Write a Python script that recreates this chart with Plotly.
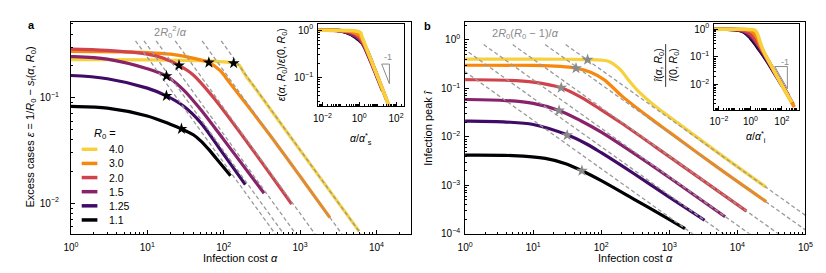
import math
import plotly.graph_objects as go

W, H = 826, 273

# ---------------- data ----------------
R0_labels = ["4.0", "3.0", "2.0", "1.5", "1.25", "1.1"]
R0_values = [4.0, 3.0, 2.0, 1.5, 1.25, 1.1]
line_colors = ["#f7d13d", "#f8870e", "#d1434c", "#88226a", "#400b67", "#000004"]

# Panel a: excess cases epsilon vs infection cost alpha
a_alpha_40 = [0.1, 1, 10, 50, 100, 135, 160, 180, 200, 250, 500, 1000, 5950]
a_eps_40 = [0.229, 0.229, 0.228, 0.224, 0.218, 0.212, 0.203, 0.176, 0.157, 0.127, 0.0635, 0.0318, 0.0054]
a_alpha_30 = [0.1, 1, 5, 10, 20, 30, 64, 90, 120, 200, 400, 1000, 2460]
a_eps_30 = [0.274, 0.274, 0.271, 0.267, 0.258, 0.247, 0.215, 0.180, 0.138, 0.086, 0.0445, 0.0180, 0.0073]
a_alpha_20 = [0.1, 1, 3, 10, 16, 26, 40, 72, 176, 776]
a_eps_20 = [0.290, 0.288, 0.280, 0.258, 0.238, 0.202, 0.164, 0.102, 0.0436, 0.0098]
a_alpha_15 = [0.1, 1, 3, 10, 17.8, 30, 50, 100, 338]
a_eps_15 = [0.247, 0.245, 0.232, 0.188, 0.160, 0.118, 0.077, 0.040, 0.0124]
a_alpha_125 = [0.1, 1, 3, 10, 17.8, 30, 50, 100, 192]
a_eps_125 = [0.163, 0.162, 0.151, 0.123, 0.104, 0.083, 0.058, 0.029, 0.0150]
a_alpha_11 = [0.1, 1, 3, 10, 20, 28, 40, 50, 65, 80, 123]
a_eps_11 = [0.083, 0.0825, 0.0795, 0.067, 0.056, 0.0506, 0.0445, 0.039, 0.0318, 0.0265, 0.0182]

a_star_alpha = [135, 64, 26, 17.8, 17.8, 28]
a_star_eps = [0.212, 0.215, 0.202, 0.160, 0.104, 0.0506]

# Panel b: infection peak i-hat vs infection cost alpha
b_alpha_40 = [0.1, 1, 10, 30, 63, 100, 130, 160, 195, 250, 332, 585, 1432, 5000, 26500]
b_i_40 = [0.402, 0.402, 0.401, 0.399, 0.392, 0.382, 0.360, 0.300, 0.236, 0.150, 0.094, 0.046, 0.0180, 0.0049, 0.00091]
b_alpha_30 = [0.1, 1, 10, 25, 42.6, 70, 111, 200, 500, 1000, 5000, 26500]
b_i_30 = [0.300, 0.300, 0.297, 0.285, 0.262, 0.215, 0.150, 0.070, 0.0255, 0.0125, 0.0024, 0.00046]
b_alpha_20 = [0.1, 1, 4, 10, 25.8, 50, 100, 195, 1000, 13600]
b_i_20 = [0.152, 0.151, 0.147, 0.135, 0.103, 0.066, 0.036, 0.0195, 0.0039, 0.000294]
b_alpha_15 = [0.1, 1, 4, 10, 24, 50, 100, 300, 1000, 6600]
b_i_15 = [0.059, 0.059, 0.056, 0.049, 0.035, 0.0215, 0.0125, 0.0046, 0.00145, 0.000225]
b_alpha_125 = [0.1, 1, 4, 10, 31.6, 60, 100, 300, 1000, 3300]
b_i_125 = [0.0212, 0.0211, 0.0202, 0.0180, 0.0110, 0.0072, 0.0047, 0.00175, 0.00057, 0.00019]
b_alpha_11 = [0.1, 1, 5, 15, 30, 52, 100, 300, 800, 1700]
b_i_11 = [0.0042, 0.0042, 0.0041, 0.0036, 0.0028, 0.0020, 0.00125, 0.00052, 0.000237, 0.000127]

b_star_alpha = [63, 42.6, 25.8, 24, 31.6, 52]
b_star_i = [0.39, 0.26, 0.103, 0.035, 0.0108, 0.0020]

# tick labels
main_x_ticks_a = [1, 10, 100, 1000, 10000]
main_x_ticks_b = [1, 10, 100, 1000, 10000, 100000]
main_y_ticks_a = [0.01, 0.1]
main_y_ticks_b = [1e-4, 1e-3, 1e-2, 1e-1, 1]
inset_x_ticks = [0.01, 1, 100]
inset_y_ticks_a = [0.1, 1]
inset_y_ticks_b = [0.01, 0.1, 1]

a_alphas = [a_alpha_40, a_alpha_30, a_alpha_20, a_alpha_15, a_alpha_125, a_alpha_11]
a_epss = [a_eps_40, a_eps_30, a_eps_20, a_eps_15, a_eps_125, a_eps_11]
b_alphas = [b_alpha_40, b_alpha_30, b_alpha_20, b_alpha_15, b_alpha_125, b_alpha_11]
b_is = [b_i_40, b_i_30, b_i_20, b_i_15, b_i_125, b_i_11]

# ---------------- helpers ----------------
def px(x):
    return x / W


def py(y):
    return 1 - y / H


def pow_label(v):
    e = int(round(math.log10(v)))
    s = str(e).replace("-", "\u2212")
    return "10<sup>%s</sup>" % s


def minor_vals(lo, hi, skip):
    vals = []
    for n in range(math.floor(lo) - 1, math.ceil(hi) + 1):
        for k in range(1, 10):
            v = k * 10.0 ** n
            if k == 1 and any(abs(math.log10(v) - math.log10(s)) < 1e-9 for s in skip):
                continue
            if lo <= math.log10(v) <= hi:
                vals.append(v)
    return vals


def make_axis(domain, rng, major, anchor, standoff, fsize=10):
    return dict(
        type="log", domain=domain, range=rng, anchor=anchor,
        tickmode="array", tickvals=major, ticktext=[pow_label(v) for v in major],
        ticks="inside", ticklen=4, tickwidth=1, tickcolor="black",
        showline=True, linecolor="black", linewidth=1, mirror=True,
        showgrid=False, zeroline=False,
        tickfont=dict(size=fsize, color="black", family="Liberation Sans, Arial"),
        ticklabelstandoff=standoff,
        minor=dict(tickmode="array", tickvals=minor_vals(rng[0], rng[1], major),
                   ticks="inside", ticklen=2, tickwidth=0.8, tickcolor="black", showgrid=False),
    )


fig = go.Figure()

# ---------------- panel a ----------------
for lab, col, al, ep in zip(R0_labels, line_colors, a_alphas, a_epss):
    fig.add_trace(go.Scatter(x=al, y=ep, mode="lines", name=lab,
                             line=dict(color=col, width=3.2, shape="spline", smoothing=0.9),
                             xaxis="x", yaxis="y", showlegend=False))
for r in R0_values:
    c = 2 * r * r
    fig.add_trace(go.Scatter(x=[c / 0.345, c / 0.002], y=[0.345, 0.002], mode="lines",
                             line=dict(color="#9a9a9a", width=1.3, dash="4px,2.6px"),
                             xaxis="x", yaxis="y", showlegend=False, hoverinfo="skip"))
fig.add_trace(go.Scatter(x=a_star_alpha, y=a_star_eps, mode="markers",
                         marker=dict(symbol="star", size=9, color="black", line=dict(width=0)),
                         xaxis="x", yaxis="y", showlegend=False))

# ---------------- panel b ----------------
for lab, col, al, iv in zip(R0_labels, line_colors, b_alphas, b_is):
    fig.add_trace(go.Scatter(x=al, y=iv, mode="lines", name=lab,
                             line=dict(color=col, width=3.2, shape="spline", smoothing=0.9),
                             xaxis="x2", yaxis="y2", showlegend=False))
for r in R0_values:
    c = 2 * r * (r - 1)
    fig.add_trace(go.Scatter(x=[c / 0.8, 1e6], y=[0.8, c / 1e6], mode="lines",
                             line=dict(color="#9a9a9a", width=1.3, dash="4px,2.6px"),
                             xaxis="x2", yaxis="y2", showlegend=False, hoverinfo="skip"))
fig.add_trace(go.Scatter(x=b_star_alpha, y=b_star_i, mode="markers",
                         marker=dict(symbol="star", size=9, color="#8a8a8a", line=dict(width=0)),
                         xaxis="x2", yaxis="y2", showlegend=False))

# ---------------- insets (normalised curves) ----------------
for k in reversed(range(6)):
    al, ep, st = a_alphas[k], a_epss[k], a_star_alpha[k]
    fig.add_trace(go.Scatter(x=[a / st for a in al], y=[e / ep[0] for e in ep], mode="lines",
                             line=dict(color=line_colors[k], width=3.5, shape="spline", smoothing=0.9),
                             xaxis="x3", yaxis="y3", showlegend=False))
    al, iv, st = b_alphas[k], b_is[k], b_star_alpha[k]
    fig.add_trace(go.Scatter(x=[a / st for a in al], y=[v / iv[0] for v in iv], mode="lines",
                             line=dict(color=line_colors[k], width=3.5, shape="spline", smoothing=0.9),
                             xaxis="x4", yaxis="y4", showlegend=False))


def slope_triangle(xa, ya, lx0, ly0, dec):
    xs = [10 ** lx0, 10 ** (lx0 + dec), 10 ** (lx0 + dec), 10 ** lx0]
    ys = [10 ** ly0, 10 ** ly0, 10 ** (ly0 - dec), 10 ** ly0]
    fig.add_trace(go.Scatter(x=xs, y=ys, mode="lines", line=dict(color="#8a8a8a", width=1),
                             xaxis=xa, yaxis=ya, showlegend=False, hoverinfo="skip"))
    fig.add_annotation(x=lx0 + 0.8 * dec, y=ly0 + 0.16, xref=xa, yref=ya, text="-1",
                       showarrow=False, font=dict(size=9, color="#8a8a8a"))


slope_triangle("x3", "y3", 1.22, -0.72, 0.42)
slope_triangle("x4", "y4", 1.55, -1.35, 0.8)

# ---------------- axes ----------------
dom_a = [px(56), px(403)]
dom_b = [px(458), px(805)]
dom_y = [py(230.7), py(13.3)]
fig.update_layout(
    xaxis=make_axis(dom_a, [0, 4.455], main_x_ticks_a, "y", 4),
    yaxis=make_axis(dom_y, [-2.29, -0.283], main_y_ticks_a, "x", 9),
    xaxis2=make_axis(dom_b, [0, 5], main_x_ticks_b, "y2", 4),
    yaxis2=make_axis(dom_y, [-4, 0.37], main_y_ticks_b, "x2", 2),
    xaxis3=make_axis([px(308), px(396)], [-2.24, 2.45], inset_x_ticks, "y3", 3),
    yaxis3=make_axis([py(100), py(15)], [-1.62, 0.139], inset_y_ticks_a, "x3", 2),
    xaxis4=make_axis([px(712), px(798)], [-2.3, 3.06], inset_x_ticks, "y4", 2),
    yaxis4=make_axis([py(104), py(15)], [-2.93, 0.2], inset_y_ticks_b, "x4", 2),
)

# ---------------- text ----------------
F = "Liberation Sans, Arial, sans-serif"


def txt(x, y, t, size=11, color="black", angle=0, xanchor="center"):
    fig.add_annotation(x=px(x), y=py(y), xref="paper", yref="paper", text=t, showarrow=False,
                       textangle=angle, xanchor=xanchor, yanchor="middle",
                       font=dict(size=size, color=color, family=F))


txt(16, 16, "<b>a</b>", 11)
txt(420, 17, "<b>b</b>", 11)
txt(229, 256, "Infection cost <i>α</i>", 11)
txt(632, 256, "Infection cost <i>α</i>", 11)
txt(15, 121, "Excess cases <i>ε</i> = 1/<i>R</i><sub>0</sub> − <i>s</i><sub>f</sub>(<i>α</i>, <i>R</i><sub>0</sub>)", 11, angle=-90)
txt(420, 122, "Infection peak <i>î</i>", 11, angle=-90)
txt(158, 24, "2<i>R</i><sub>0</sub><sup>2</sup>/<i>α</i>", 11, color="#8a8a8a")
txt(520, 26, "2<i>R</i><sub>0</sub>(<i>R</i><sub>0</sub> − 1)/<i>α</i>", 11, color="#8a8a8a")
txt(271, 57, "<i>ε</i>(<i>α</i>, <i>R</i><sub>0</sub>)/<i>ε</i>(0, <i>R</i><sub>0</sub>)", 10.5, angle=-90)
txt(352, 133, "<i>α</i>/<i>α</i><sup>*</sup><sub>s</sub>", 10.5)
txt(755, 131, "<i>α</i>/<i>α</i><sup>*</sup><sub>i</sub>", 10.5)
txt(655, 58, "<i>î</i>(<i>α</i>, <i>R</i><sub>0</sub>)", 10.5, angle=-90)
txt(670, 58, "<i>î</i>(0, <i>R</i><sub>0</sub>)", 10.5, angle=-90)
fig.add_shape(type="line", xref="paper", yref="paper", x0=px(662.5), x1=px(662.5),
              y0=py(36), y1=py(80), line=dict(color="black", width=0.8))

# manual legend
txt(77, 128, "<i>R</i><sub>0</sub> =", 11, xanchor="left")
for i, (lab, col) in enumerate(zip(R0_labels, line_colors)):
    yy = 144 + 14.5 * i
    fig.add_shape(type="line", xref="paper", yref="paper", x0=px(67), x1=px(83),
                  y0=py(yy), y1=py(yy), line=dict(color=col, width=3.5))
    txt(93, yy, lab, 10.5, xanchor="left")

fig.update_layout(width=W, height=H, margin=dict(l=0, r=0, t=0, b=0),
                  paper_bgcolor="white", plot_bgcolor="white", showlegend=False,
                  font=dict(family=F, color="black"))

fig.write_html("out.html")
